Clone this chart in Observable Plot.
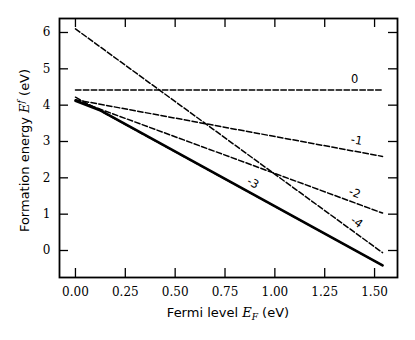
<!DOCTYPE html>
<html>
<head>
<meta charset="utf-8">
<script src="https://cdn.jsdelivr.net/npm/d3@7"></script>
<script src="https://cdn.jsdelivr.net/npm/@observablehq/plot@0.6"></script>
<style>
  body { margin: 0; background: #fff; }
  #chart svg { display: block; }
</style>
</head>
<body>
<div id="chart"></div>
<script>
// Fermi level end points of the charge-state lines (eV)
const fermiEnds = [0, 1.54];
// Formation energies (eV) at those end points, per charge state
const charge0 = [4.42, 4.42];
const chargeM1 = [4.15, 2.59];
const chargeM2 = [4.14, 1.03];
const chargeM3 = [4.22, -0.41];
const chargeM4 = [6.10, -0.06];
// Lowest-energy (solid) envelope
const envelopeFermi = [0, 0.12, 1.54];
const envelopeEnergy = [4.12, 3.87, -0.41];
// Line labels
const labelText = ["0", "-1", "-2", "-3", "-4"];
const labelFermi = [1.40, 1.41, 1.40, 0.89, 1.41];
const labelEnergy = [4.72, 3.03, 1.58, 1.86, 0.78];
const labelSlope = [0, -1, -2, -3, -4];
// Ticks
const xTicks = [0, 0.25, 0.5, 0.75, 1.0, 1.25, 1.5];
const yTicks = [0, 1, 2, 3, 4, 5, 6];

const W = 415, H = 340;
const mL = 59, mR = 18, mT = 18, mB = 63;
const innerW = W - mL - mR, innerH = H - mT - mB;
const xDomain = [-0.08, 1.615];
const yDomain = [-0.743, 6.385];
const pxPerX = innerW / (xDomain[1] - xDomain[0]);
const pxPerY = innerH / (yDomain[1] - yDomain[0]);

const series = [
  {name: "0", values: charge0},
  {name: "-1", values: chargeM1},
  {name: "-2", values: chargeM2},
  {name: "-3", values: chargeM3},
  {name: "-4", values: chargeM4}
];
const dashedRows = series.flatMap(s => fermiEnds.map((x, i) => ({q: s.name, x, y: s.values[i]})));
const envelopeRows = envelopeFermi.map((x, i) => ({x, y: envelopeEnergy[i]}));
// screen angle of each line (clockwise positive, as Plot's rotate expects)
const labelRows = labelText.map((t, i) => ({
  t, x: labelFermi[i], y: labelEnergy[i],
  a: -Math.atan(labelSlope[i] * pxPerY / pxPerX) * 180 / Math.PI
}));

const plot = Plot.plot({
  width: W, height: H,
  marginLeft: mL, marginRight: mR, marginTop: mT, marginBottom: mB,
  style: {background: "#fff", color: "#000"},
  x: {domain: xDomain},
  y: {domain: yDomain},
  marks: [
    Plot.line(dashedRows, {x: "x", y: "y", z: "q", stroke: "#000", strokeWidth: 1.5, strokeDasharray: "5.5,2.4"}),
    Plot.line(envelopeRows, {x: "x", y: "y", stroke: "#000", strokeWidth: 2.7}),
    Plot.text(labelRows, {x: "x", y: "y", text: "t", rotate: "a", fontSize: 11.5, fontFamily: "DejaVu Sans", fill: "#000"}),
    Plot.tickX(xTicks, {x: d => d, insetTop: innerH - 9, stroke: "#000", strokeWidth: 1.3}),
    Plot.tickX(xTicks, {x: d => d, insetBottom: innerH - 9, stroke: "#000", strokeWidth: 1.3}),
    Plot.tickY(yTicks, {y: d => d, insetRight: innerW - 9, stroke: "#000", strokeWidth: 1.3}),
    Plot.tickY(yTicks, {y: d => d, insetLeft: innerW - 9, stroke: "#000", strokeWidth: 1.3}),
    Plot.axisX({ticks: xTicks, tickSize: 0, tickPadding: 10, tickFormat: d => d.toFixed(2), fontSize: 12, fontFamily: "DejaVu Serif", label: null}),
    Plot.axisY({ticks: yTicks, tickSize: 0, tickPadding: 9, tickFormat: d => String(d), fontSize: 12, fontFamily: "DejaVu Serif", label: null}),
    Plot.frame({stroke: "#000", strokeWidth: 1.8})
  ]
});

const svg = d3.select(plot);
const xt = svg.append("text")
  .attr("x", mL + innerW / 2).attr("y", 317)
  .attr("text-anchor", "middle")
  .attr("font-family", "DejaVu Sans").attr("font-size", 13).attr("fill", "#000");
xt.append("tspan").text("Fermi level ");
xt.append("tspan").attr("font-family", "DejaVu Serif").attr("font-style", "italic").text("E");
xt.append("tspan").attr("font-family", "DejaVu Serif").attr("font-style", "italic").attr("font-size", 9).attr("dy", 3).text("F");
xt.append("tspan").attr("dy", -3).text(" (eV)");

const yt = svg.append("text")
  .attr("transform", `translate(29,${mT + innerH / 2 + 3}) rotate(-90)`)
  .attr("text-anchor", "middle")
  .attr("font-family", "DejaVu Sans").attr("font-size", 13).attr("fill", "#000");
yt.append("tspan").text("Formation energy ");
yt.append("tspan").attr("font-family", "DejaVu Serif").attr("font-style", "italic").text("E");
yt.append("tspan").attr("font-family", "DejaVu Serif").attr("font-style", "italic").attr("font-size", 9).attr("dy", -5).text("f");
yt.append("tspan").attr("dy", 5).text(" (eV)");

document.getElementById("chart").appendChild(plot);
</script>
</body>
</html>
